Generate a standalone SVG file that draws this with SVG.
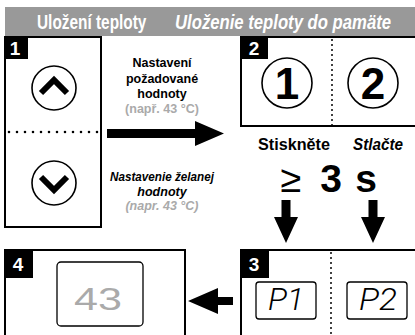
<svg xmlns="http://www.w3.org/2000/svg" width="415" height="335" viewBox="0 0 415 335">
<style>
text{font-family:"Liberation Sans",Arial,sans-serif}
.box{fill:none;stroke:#000;stroke-width:2}
.badge{fill:#000}
.bnum{fill:#fff;font-weight:bold;font-size:19px;text-anchor:middle}
.hdr{fill:#fff;font-weight:bold;font-size:20px}
.lbl{font-weight:bold;font-size:12.5px;text-anchor:middle;fill:#000}
.gr{fill:#aaa}
.circ{fill:#fff;stroke:#000;stroke-width:1.6}
.chev{fill:none;stroke:#000;stroke-width:6;stroke-linejoin:miter}
.dig{font-weight:bold;font-size:44px;text-anchor:middle}
.dotv{stroke:#000;stroke-width:2;stroke-linecap:round;stroke-dasharray:0 5}
.doth{stroke:#000;stroke-width:2.6;stroke-linecap:round;stroke-dasharray:0 8}
.disp{fill:#fff;stroke:#000;stroke-width:1.3}
.seg{font-family:Roboto,"Liberation Sans",sans-serif;font-weight:300;font-size:32px;font-style:italic;text-anchor:middle}
.arrow{fill:#000}
</style>
<rect x="5" y="7" width="410" height="29" fill="#999"/>
<text class="hdr" transform="translate(37,29) scale(0.77,1)" x="0" y="0">Uložení teploty</text>
<text class="hdr" transform="translate(175,29) scale(0.835,1)" x="0" y="0" font-style="italic">Uloženie teploty do pamäte</text>

<g id="step1">
<rect class="box" x="5" y="37" width="96" height="190"/>
<rect class="badge" x="4" y="36" width="24" height="23"/>
<text class="bnum" x="15" y="55">1</text>
<circle class="circ" cx="54" cy="88" r="22"/>
<polyline class="chev" points="41,93 54,80 67,93"/>
<line class="doth" x1="9" y1="132" x2="100" y2="132"/>
<circle class="circ" cx="54" cy="183" r="22"/>
<polyline class="chev" points="41,177 54,190 67,177"/>
</g>

<g id="label1">
<text class="lbl" x="162" y="67">Nastavení</text>
<text class="lbl" x="162" y="83">požadované</text>
<text class="lbl" x="162" y="98">hodnoty</text>
<text class="lbl gr" x="162" y="113">(např. 43 °C)</text>
<text class="lbl" x="162" y="181" font-style="italic" textLength="104" lengthAdjust="spacingAndGlyphs">Nastavenie želanej</text>
<text class="lbl" x="162" y="196" font-style="italic">hodnoty</text>
<text class="lbl gr" x="162" y="210" font-style="italic">(napr. 43 °C)</text>
</g>

<g id="step2">
<path class="box" d="M415,37 H241 V126 H415"/>
<rect class="badge" x="240" y="36" width="28" height="23"/>
<text class="bnum" x="254" y="55">2</text>
<line class="dotv" x1="332" y1="40" x2="332" y2="126"/>
<circle class="circ" cx="287" cy="83" r="25"/>
<text class="dig" x="287" y="99">1</text>
<circle class="circ" cx="373" cy="83" r="25"/>
<text class="dig" x="373" y="99">2</text>
</g>

<g id="press">
<text x="294" y="150" font-weight="bold" font-size="16" text-anchor="middle" textLength="72" lengthAdjust="spacingAndGlyphs">Stiskněte</text>
<text x="378" y="150" font-weight="bold" font-style="italic" font-size="16" text-anchor="middle" textLength="50" lengthAdjust="spacingAndGlyphs">Stlačte</text>
<text x="291" y="192" font-size="38" text-anchor="middle">≥</text>
<text x="331" y="192" font-weight="bold" font-size="39" text-anchor="middle">3</text>
<text x="366" y="192" font-weight="bold" font-size="39" text-anchor="middle">s</text>
</g>

<g id="step3">
<path class="box" d="M415,250 H241 V335"/>
<rect class="badge" x="240" y="249" width="29" height="29"/>
<text class="bnum" x="254" y="271">3</text>
<line class="dotv" x1="331" y1="253" x2="331" y2="335"/>
<rect class="disp" x="256" y="282" width="60" height="37" rx="3"/>
<text class="seg" x="286" y="310" textLength="36" lengthAdjust="spacingAndGlyphs">P1</text>
<rect class="disp" x="347" y="282" width="60" height="37" rx="3"/>
<text class="seg" x="378" y="310" textLength="38" lengthAdjust="spacingAndGlyphs">P2</text>
</g>

<g id="step4">
<path class="box" d="M5,335 V250 H185 V335"/>
<rect class="badge" x="4" y="249" width="29" height="29"/>
<text class="bnum" x="18" y="271">4</text>
<rect class="disp" x="57" y="262" width="86" height="64" rx="4"/>
<text x="98" y="310" font-family="Roboto,'Liberation Sans',sans-serif" font-weight="300" font-size="31" fill="#aaa" text-anchor="middle" textLength="48" lengthAdjust="spacingAndGlyphs">43</text>
</g>

<g id="connectors">
<path class="arrow" d="M107,129 H195 V121 L224,133.5 L195,146 V138 H107 Z"/>
<path class="arrow" d="M281.5,200 H290.5 V217 H298 L286,243 L274,217 H281.5 Z"/>
<path class="arrow" d="M368.5,200 H377.5 V217 H385 L373,243 L361,217 H368.5 Z"/>
<path class="arrow" d="M233,297 V305 H218 V314 L188,301 L218,288 V297 Z"/>
</g>
</svg>
